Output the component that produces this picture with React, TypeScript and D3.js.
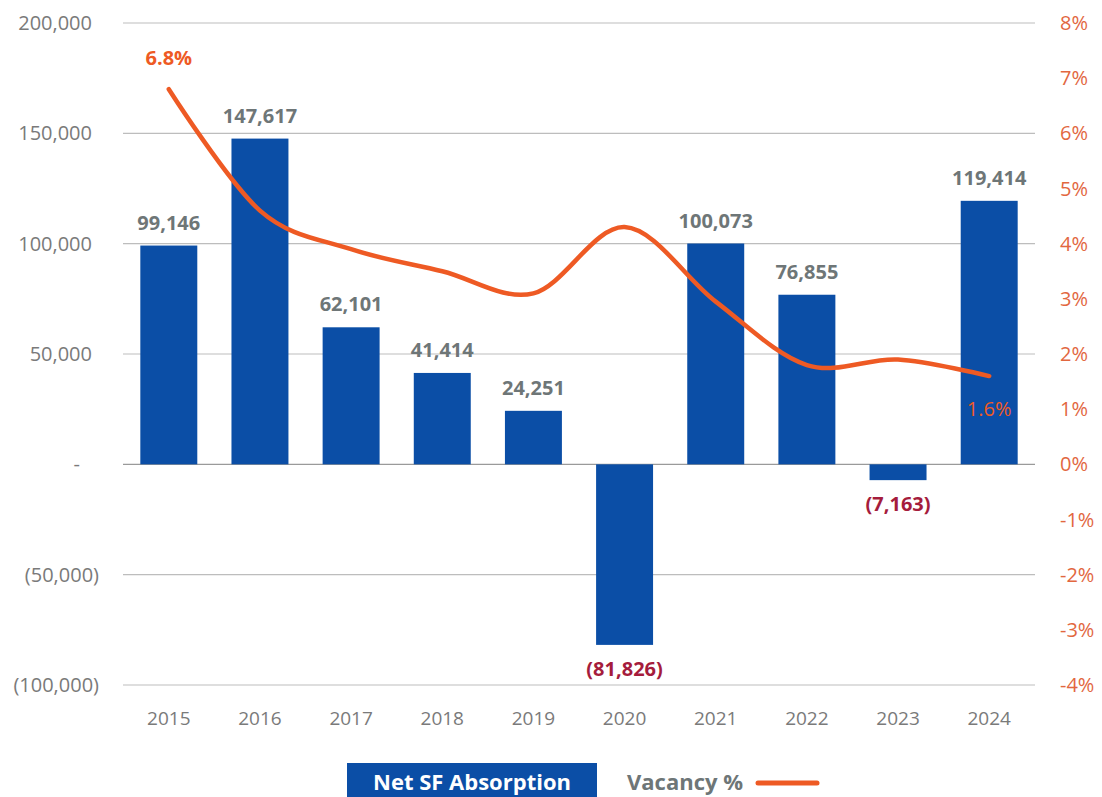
import React from "react";
import * as d3 from "d3";

const years = ["2015", "2016", "2017", "2018", "2019", "2020", "2021", "2022", "2023", "2024"];
const absorption = [99146, 147617, 62101, 41414, 24251, -81826, 100073, 76855, -7163, 119414];
const vacancy = [6.8, 4.6, 3.9, 3.5, 3.1, 4.3, 2.95, 1.8, 1.9, 1.6];
const leftTicks = [200000, 150000, 100000, 50000, 0, -50000, -100000];
const rightTicks = [8, 7, 6, 5, 4, 3, 2, 1, 0, -1, -2, -3, -4];

const W = 1102;
const H = 797;
const plotLeft = 123;
const plotRight = 1035;
const yTop = 23;
const yBottom = 685;

const FONT = "'Open Sans', 'Noto Sans', sans-serif";
const BLUE = "#0B4EA6";
const ORANGE = "#EE5A24";
const AXIS_ORANGE = "#E2673F";
const GRAY = "#6E7677";
const RED = "#A51C3C";

function fmt(v: number) {
  if (v === 0) return "-";
  const s = d3.format(",")(Math.abs(v));
  return v < 0 ? `(${s})` : s;
}

export default function App() {
  const x = d3.scaleBand<string>().domain(years).range([plotLeft, plotRight]).paddingInner(0.375).paddingOuter(0.19);
  const yL = d3.scaleLinear().domain([-100000, 200000]).range([yBottom, yTop]);
  const yR = d3.scaleLinear().domain([-4, 8]).range([yBottom, yTop]);
  const cx = (y: string) => (x(y) as number) + x.bandwidth() / 2;

  const line = d3
    .line<number>()
    .x((_, i) => cx(years[i]))
    .y((d) => yR(d))
    .curve(d3.curveCardinal.tension(0));

  const last = vacancy.length - 1;

  return (
    <svg width={W} height={H} style={{ position: "absolute", left: 0, top: 0, background: "#fff" }}>
      {/* gridlines */}
      {leftTicks.map((t) => (
        <line key={t} x1={plotLeft} x2={plotRight} y1={yL(t)} y2={yL(t)} stroke={t === 0 ? "#9A9A9A" : "#BDBDBD"} strokeWidth={1.2} />
      ))}
      {/* left ticks */}
      {leftTicks.map((t) => (
        <text key={"l" + t} x={t === 0 ? 80 : t < 0 ? 99 : 92} y={yL(t)} dy="0.35em" textAnchor="end" fontFamily={FONT} fontSize={20} fill="#7A7A7A">
          {fmt(t)}
        </text>
      ))}
      {/* right ticks */}
      {rightTicks.map((t) => (
        <text key={"r" + t} x={1060} y={yR(t)} dy="0.35em" textAnchor="start" fontFamily={FONT} fontSize={20} fill={AXIS_ORANGE}>
          {`${t}%`}
        </text>
      ))}
      {/* bars */}
      {absorption.map((v, i) => (
        <rect key={"b" + i} x={x(years[i])} width={x.bandwidth()} y={Math.min(yL(v), yL(0))} height={Math.abs(yL(v) - yL(0))} fill={BLUE} />
      ))}
      {/* bar labels */}
      {absorption.map((v, i) => (
        <text
          key={"bl" + i}
          x={cx(years[i])}
          y={v >= 0 ? yL(v) - 16 : yL(v) + 31}
          textAnchor="middle"
          fontFamily={FONT}
          fontWeight={700}
          fontSize={20}
          fill={v >= 0 ? GRAY : RED}
        >
          {fmt(v)}
        </text>
      ))}
      {/* x labels */}
      {years.map((y) => (
        <text key={"x" + y} x={cx(y)} y={718} dy="0.35em" textAnchor="middle" fontFamily={FONT} fontSize={19} fill="#7A7A7A">
          {y}
        </text>
      ))}
      {/* vacancy line */}
      <path d={line(vacancy) || ""} fill="none" stroke={ORANGE} strokeWidth={4.5} strokeLinecap="round" strokeLinejoin="round" />
      <text x={cx(years[0])} y={yR(vacancy[0]) - 24} textAnchor="middle" fontFamily={FONT} fontWeight={700} fontSize={20} fill={ORANGE}>
        {`${vacancy[0]}%`}
      </text>
      <text x={cx(years[last])} y={yR(vacancy[last]) + 40} textAnchor="middle" fontFamily={FONT} fontWeight={400} fontSize={20} fill={ORANGE}>
        {`${vacancy[last]}%`}
      </text>
      {/* legend */}
      <rect x={347} y={763} width={250} height={40} fill={BLUE} />
      <text x={472} y={790} textAnchor="middle" fontFamily={FONT} fontWeight={700} fontSize={22} fill="#fff">
        Net SF Absorption
      </text>
      <text x={627} y={790} fontFamily={FONT} fontWeight={700} fontSize={22} fill={GRAY}>
        Vacancy %
      </text>
      <line x1={758} x2={817} y1={783} y2={783} stroke={ORANGE} strokeWidth={5} strokeLinecap="round" />
    </svg>
  );
}
